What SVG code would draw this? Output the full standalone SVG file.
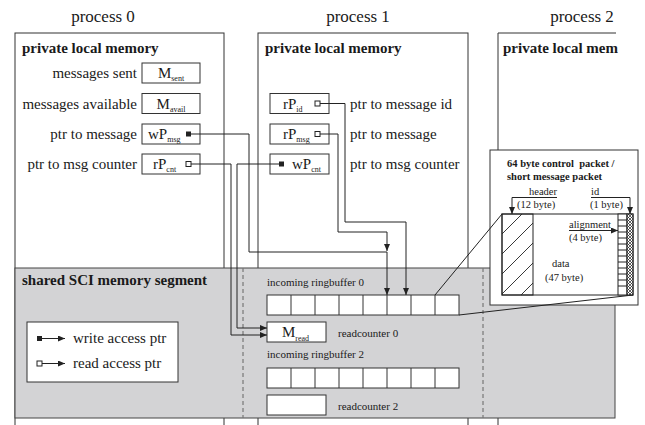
<svg xmlns="http://www.w3.org/2000/svg" width="645" height="425" viewBox="0 0 645 425">
  <style>
    text { font-family: "Liberation Serif", "Times New Roman", serif; fill: #1a1a1a; }
    .title { font-size: 17px; text-anchor: middle; }
    .head { font-size: 15px; font-weight: bold; }
    .lbl { font-size: 15px; }
    .end { text-anchor: end; }
    .mid { text-anchor: middle; }
    .small { font-size: 11px; }
    .tiny { font-size: 10.5px; }
    .tinyb { font-size: 10.5px; font-weight: bold; }
    .sub { font-size: 8px; }
    .box { fill: #fff; stroke: #333; stroke-width: 1; }
    .frame { fill: none; stroke: #333; stroke-width: 1; }
    .wire { fill: none; stroke: #222; stroke-width: 1; }
    .dash { fill: none; stroke: #777; stroke-width: 1.2; stroke-dasharray: 4 3; }
    .wsq { fill: #222; }
    .rsq { fill: #fff; stroke: #222; stroke-width: 1; }
  </style>
  <defs>
    <marker id="ah" viewBox="0 0 7 6" refX="7" refY="3" markerWidth="7" markerHeight="6" orient="auto" markerUnits="userSpaceOnUse">
      <path d="M0,0 L7,3 L0,6 z" fill="#222"/>
    </marker>
    <pattern id="hatch" patternUnits="userSpaceOnUse" width="20" height="20" x="502" y="214">
      <path d="M0,20 L20,0 M-5,5 L5,-5 M15,25 L25,15" stroke="#222" stroke-width="0.9"/>
    </pattern>
    <pattern id="xhatch" patternUnits="userSpaceOnUse" width="3" height="3">
      <rect width="3" height="3" fill="#fff"/>
      <path d="M0,3 L3,0 M0,0 L3,3" stroke="#222" stroke-width="0.7"/>
    </pattern>
  </defs>

  <!-- process headings -->
  <text class="title" x="103" y="22">process 0</text>
  <text class="title" x="358" y="22">process 1</text>
  <text class="title" x="582" y="22">process 2</text>

  <!-- process 0 -->
  <g id="process0">
    <rect class="frame" x="15" y="33" width="209" height="420"/>
    <text class="head" x="22" y="53">private local memory</text>
    <text class="lbl end" x="137" y="78">messages sent</text>
    <text class="lbl end" x="137" y="108.5">messages available</text>
    <text class="lbl end" x="137" y="139">ptr to message</text>
    <text class="lbl end" x="137" y="169">ptr to msg counter</text>
  </g>
  <g id="m-sent">
    <rect class="box" x="142" y="63" width="58" height="20"/>
    <text class="lbl mid" x="171" y="78">M<tspan class="sub" dy="3">sent</tspan></text>
  </g>
  <g id="m-avail">
    <rect class="box" x="142" y="93.5" width="58" height="20"/>
    <text class="lbl mid" x="171" y="108.5">M<tspan class="sub" dy="3">avail</tspan></text>
  </g>
  <g id="wp-msg">
    <rect class="box" x="142" y="124" width="58" height="20"/>
    <text class="lbl" x="148" y="139">wP<tspan class="sub" dy="3">msg</tspan></text>
    <rect class="wsq" x="186" y="131.5" width="5" height="5"/>
  </g>
  <g id="rp-cnt">
    <rect class="box" x="142" y="154" width="58" height="20"/>
    <text class="lbl" x="153" y="169">rP<tspan class="sub" dy="3">cnt</tspan></text>
    <rect class="rsq" x="186" y="161.5" width="5" height="5"/>
  </g>

  <!-- process 1 -->
  <g id="process1">
    <rect class="frame" x="258" y="33" width="210" height="420"/>
    <text class="head" x="265" y="53">private local memory</text>
    <text class="lbl" x="350" y="108.5">ptr to message id</text>
    <text class="lbl" x="350" y="139">ptr to message</text>
    <text class="lbl" x="350" y="169">ptr to msg counter</text>
  </g>
  <g id="rp-id">
    <rect class="box" x="270" y="93.5" width="59" height="20"/>
    <text class="lbl" x="283" y="108.5">rP<tspan class="sub" dy="3">id</tspan></text>
    <rect class="rsq" x="315" y="101" width="5" height="5"/>
  </g>
  <g id="rp-msg">
    <rect class="box" x="270" y="124" width="59" height="20"/>
    <text class="lbl" x="283" y="139">rP<tspan class="sub" dy="3">msg</tspan></text>
    <rect class="rsq" x="315" y="131.5" width="5" height="5"/>
  </g>
  <g id="wp-cnt">
    <rect class="box" x="270" y="154" width="59" height="20"/>
    <rect class="wsq" x="279" y="161.5" width="5" height="5"/>
    <text class="lbl" x="292" y="169">wP<tspan class="sub" dy="3">cnt</tspan></text>
  </g>

  <!-- process 2 -->
  <g id="process2">
    <path class="frame" d="M498,453 V33 H616"/>
    <text class="head" x="503" y="53">private local mem</text>
  </g>

  <!-- shared SCI segment -->
  <g id="shared-segment">
    <rect x="15" y="268" width="600" height="150" fill="#d3d3d5" stroke="#444" stroke-width="1"/>
    <text class="head" x="22" y="285">shared SCI memory segment</text>
    <line class="dash" x1="243" y1="268" x2="243" y2="418"/>
    <line class="dash" x1="483" y1="268" x2="483" y2="418"/>
  </g>

  <g id="legend">
    <rect class="box" x="27" y="322" width="151" height="60"/>
    <rect class="wsq" x="37" y="336" width="5" height="5"/>
    <line class="wire" x1="42" y1="338.5" x2="65" y2="338.5" marker-end="url(#ah)"/>
    <text class="lbl" x="73" y="343">write access ptr</text>
    <rect class="rsq" x="37" y="361" width="5" height="5"/>
    <line class="wire" x1="42" y1="363.5" x2="65" y2="363.5" marker-end="url(#ah)"/>
    <text class="lbl" x="73" y="368">read access ptr</text>
  </g>

  <g id="ringbuffer0">
    <text class="small" x="267" y="286">incoming ringbuffer 0</text>
    <rect class="box" x="267" y="295" width="192" height="20"/>
    <path class="frame" d="M291,295 V315 M315,295 V315 M339,295 V315 M363,295 V315 M387,295 V315 M411,295 V315 M435,295 V315"/>
  </g>
  <g id="readcounter0">
    <rect class="box" x="267" y="322" width="59" height="20"/>
    <text class="lbl" x="282" y="337">M<tspan class="sub" font-size="9" dy="4">read</tspan></text>
    <text class="small" x="338" y="337">readcounter 0</text>
  </g>
  <g id="ringbuffer2">
    <text class="small" x="267" y="358">incoming ringbuffer 2</text>
    <rect class="box" x="267" y="368" width="192" height="20"/>
    <path class="frame" d="M291,368 V388 M315,368 V388 M339,368 V388 M363,368 V388 M387,368 V388 M411,368 V388 M435,368 V388"/>
  </g>
  <g id="readcounter2">
    <rect class="box" x="267" y="395" width="59" height="20"/>
    <text class="small" x="338" y="410">readcounter 2</text>
  </g>

  <!-- packet detail -->
  <g id="packet">
    <rect class="box" x="490" y="150" width="148" height="155"/>
    <text class="tinyb" x="507" y="167" xml:space="preserve">64 byte control  packet /</text>
    <text class="tinyb" x="507" y="180">short message packet</text>
    <rect x="502" y="214" width="131" height="81" fill="#fff" stroke="#222" stroke-width="1"/>
    <rect x="502" y="214" width="31" height="81" fill="url(#hatch)" stroke="#222" stroke-width="1"/>
    <rect x="618" y="214" width="9" height="81" fill="#fff" stroke="#222" stroke-width="1"/>
    <path class="wire" d="M618,220 H627 M618,226 H627 M618,232 H627 M618,238 H627 M618,244 H627 M618,250 H627 M618,256 H627 M618,262 H627 M618,268 H627 M618,274 H627 M618,280 H627 M618,286 H627"/>
    <rect x="627" y="214" width="6" height="81" fill="url(#xhatch)" stroke="#222" stroke-width="1"/>
    <text class="tiny" x="529" y="195">header</text>
    <path class="wire" d="M557,197.5 H512 V214" marker-end="url(#ah)"/>
    <text class="tiny" x="517" y="208">(12 byte)</text>
    <text class="tiny" x="591" y="195">id</text>
    <path class="wire" d="M591,197.5 H630 V214" marker-end="url(#ah)"/>
    <text class="tiny" x="590" y="208">(1 byte)</text>
    <text class="tiny" x="569" y="228">alignment</text>
    <path class="wire" d="M569,230.5 H618" marker-end="url(#ah)"/>
    <text class="tiny" x="569" y="241">(4 byte)</text>
    <text class="tiny" x="552" y="267">data</text>
    <text class="tiny" x="545" y="281">(47 byte)</text>
  </g>

  <!-- pointer connectors -->
  <g id="connectors">
    <path class="wire" d="M191,134 H249 V252 H387 V295" marker-end="url(#ah)"/>
    <path class="wire" d="M191,164 H231 V335 H267" marker-end="url(#ah)"/>
    <path class="wire" d="M279,164 H237 V328 H267" marker-end="url(#ah)"/>
    <path class="wire" d="M320,103.5 H345 V222 H406 V295" marker-end="url(#ah)"/>
    <path class="wire" d="M320,134 H338 V232 H387 V251" marker-end="url(#ah)"/>
    <path class="wire" d="M435,295 L502,214"/>
    <path class="wire" d="M459,315 L633,295"/>
  </g>
</svg>
